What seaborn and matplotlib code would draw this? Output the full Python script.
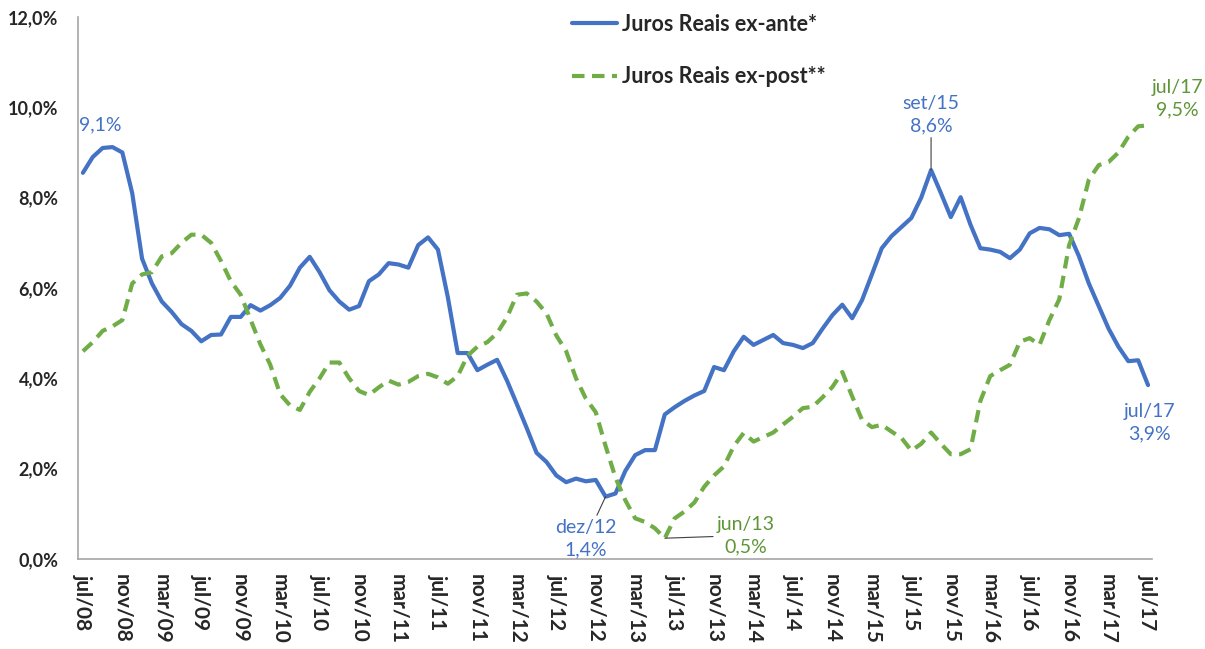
import matplotlib.pyplot as plt
import numpy as np
import pandas as pd
import seaborn as sns

# monthly, jul/08 .. jul/17
month_names = ["jan", "fev", "mar", "abr", "mai", "jun",
               "jul", "ago", "set", "out", "nov", "dez"]

ex_ante = [8.55, 8.9, 9.1, 9.12, 9.0, 8.1, 6.65, 6.1, 5.7, 5.47,
           5.2, 5.05, 4.82, 4.96, 4.97, 5.36, 5.36, 5.62, 5.5, 5.62,
           5.78, 6.05, 6.45, 6.69, 6.35, 5.95, 5.7, 5.52, 5.6, 6.15,
           6.3, 6.55, 6.52, 6.45, 6.95, 7.12, 6.85, 5.8, 4.56, 4.56,
           4.18, 4.3, 4.41, 3.95, 3.43, 2.9, 2.35, 2.15, 1.85, 1.7,
           1.78, 1.72, 1.75, 1.38, 1.45, 1.95, 2.3, 2.41, 2.41, 3.2,
           3.36, 3.5, 3.62, 3.72, 4.25, 4.18, 4.6, 4.92, 4.74, 4.85,
           4.96, 4.78, 4.74, 4.67, 4.78, 5.1, 5.4, 5.63, 5.33, 5.73,
           6.3, 6.88, 7.15, 7.35, 7.55, 8.0, 8.61, 8.1, 7.57, 8.01,
           7.4, 6.88, 6.85, 6.8, 6.66, 6.85, 7.21, 7.33, 7.3, 7.17,
           7.2, 6.7, 6.1, 5.6, 5.1, 4.7, 4.38, 4.4, 3.85]

ex_post = [4.6, 4.8, 5.05, 5.15, 5.29, 6.1, 6.3, 6.35, 6.7, 6.77,
           7.0, 7.18, 7.18, 7.0, 6.6, 6.15, 5.85, 5.3, 4.75, 4.3,
           3.65, 3.4, 3.3, 3.7, 4.0, 4.35, 4.35, 4.0, 3.72, 3.63,
           3.8, 3.95, 3.86, 3.92, 4.05, 4.1, 4.02, 3.88, 4.05, 4.5,
           4.7, 4.8, 5.0, 5.35, 5.85, 5.88, 5.7, 5.44, 4.95, 4.6,
           4.0, 3.55, 3.25, 2.5, 1.8, 1.3, 0.9, 0.82, 0.68, 0.46,
           0.9, 1.05, 1.25, 1.6, 1.85, 2.05, 2.5, 2.79, 2.6, 2.7,
           2.8, 2.98, 3.15, 3.34, 3.37, 3.58, 3.81, 4.14, 3.6, 3.08,
           2.92, 2.97, 2.82, 2.68, 2.4, 2.55, 2.8, 2.55, 2.32, 2.32,
           2.43, 3.5, 4.05, 4.18, 4.3, 4.81, 4.89, 4.74, 5.29, 5.75,
           6.95, 7.55, 8.4, 8.72, 8.79, 9.0, 9.35, 9.58, 9.6]

labels = []
for k in range(len(ex_ante)):
    m = (6 + k) % 12
    y = 8 + (6 + k) // 12
    labels.append(f"{month_names[m]}/{y:02d}")

BLUE = "#4472C4"
GREEN = "#70AD47"
GREEN_TXT = "#5E9636"

sns.set_theme(style="white")
plt.rcParams["font.family"] = ["Lato", "DejaVu Sans"]

df = pd.DataFrame({"idx": np.arange(len(labels)), "ante": ex_ante, "post": ex_post})

fig = plt.figure(figsize=(12.05, 6.49), dpi=100)
ax = fig.add_axes([0.0647, 0.1387, 0.8913, 0.8351])

sns.lineplot(data=df, x="idx", y="ante", ax=ax, color=BLUE, lw=3,
             label="Juros Reais ex-ante*", solid_joinstyle="round")
sns.lineplot(data=df, x="idx", y="post", ax=ax, color=GREEN, lw=3,
             linestyle=(0, (3, 1.8)), label="Juros Reais ex-post**")

ax.set_xlim(-0.5, len(labels) - 0.6)
ax.set_ylim(0, 12)
ax.set_yticks(np.arange(0, 12.1, 2))
ax.set_yticklabels([f"{v:.1f}%".replace(".", ",") for v in np.arange(0, 12.1, 2)],
                   fontweight="bold", fontsize=13)
ticks = np.arange(0, len(labels), 4)
ax.set_xticks(ticks)
ax.set_xticklabels([labels[i] for i in ticks], rotation=270, fontweight="bold",
                   fontsize=15, ha="center", va="top")
ax.tick_params(axis="x", length=0, pad=11)
ax.tick_params(axis="y", length=0, pad=14)
ax.set_xlabel("")
ax.set_ylabel("")
for s in ["top", "right"]:
    ax.spines[s].set_visible(False)
for s in ["left", "bottom"]:
    ax.spines[s].set_color("#A6A6A6")
    ax.spines[s].set_linewidth(1.2)

ax.legend(loc="upper left", bbox_to_anchor=(572 / 1205, 1 - 14 / 649),
          bbox_transform=fig.transFigure, frameon=False, borderpad=0,
          borderaxespad=0, handlelength=2.1, handletextpad=0.22,
          labelspacing=1.45, prop={"weight": "bold", "size": 15.5})

tk = dict(fontsize=14, ha="center", va="center", linespacing=1.4)
arrow = dict(arrowstyle="-", color="#404040", lw=0.8, shrinkA=0, shrinkB=0)

i = int(np.argmax(ex_ante[:12]))
ax.annotate(f"{ex_ante[i]:.1f}%".replace(".", ","), (i, ex_ante[i]),
            xytext=(-9, 16), textcoords="offset points", color=BLUE, **tk)

i = 53
ax.annotate(f"{labels[i]}\n{ex_ante[i]:.1f}%".replace(".", ","), (i, ex_ante[i]),
            xytext=(-14, -30), textcoords="offset points", color=BLUE,
            arrowprops=arrow, **tk)

i = int(np.argmin(ex_post))
ax.annotate(f"{labels[i]}\n{ex_post[i]:.1f}%".replace(".", ","), (i, ex_post[i]),
            xytext=(58, 2), textcoords="offset points", color=GREEN_TXT,
            arrowprops=arrow, **tk)

i = int(np.argmax(ex_ante[60:])) + 60
ax.annotate(f"{labels[i]}\n{ex_ante[i]:.1f}%".replace(".", ","), (i, ex_ante[i]),
            xytext=(0, 40), textcoords="offset points", color=BLUE,
            arrowprops=arrow, **tk)

i = len(labels) - 1
ax.annotate(f"{labels[i]}\n9,5%", (i, ex_post[i]),
            xytext=(21, 19), textcoords="offset points", color=GREEN_TXT, **tk)
ax.annotate(f"{labels[i]}\n{ex_ante[i]:.1f}%".replace(".", ","), (i, ex_ante[i]),
            xytext=(1, -27), textcoords="offset points", color=BLUE, **tk)

fig.savefig("out.png", dpi=100)
